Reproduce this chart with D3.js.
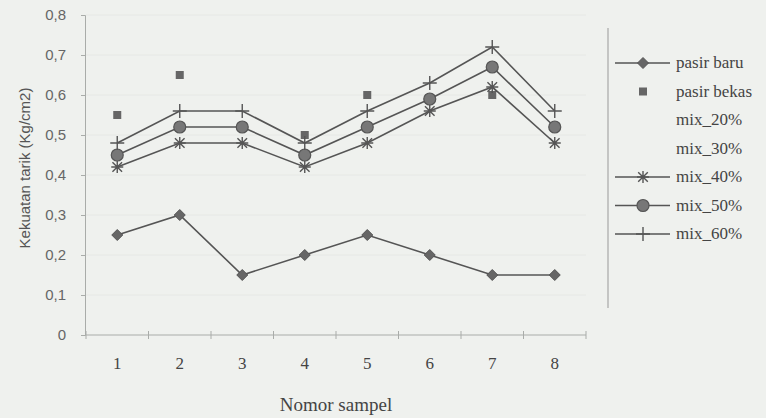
<!DOCTYPE html>
<html>
<head>
<meta charset="utf-8">
<script src="https://cdn.jsdelivr.net/npm/d3@7"></script>
<style>
  html, body { margin: 0; padding: 0; background: #eff1ee; }
  svg { display: block; }
</style>
</head>
<body>
<div id="chart"></div>
<script>
// data
const categories = [1, 2, 3, 4, 5, 6, 7, 8];
const pasirBaru  = [0.25, 0.30, 0.15, 0.20, 0.25, 0.20, 0.15, 0.15];
const pasirBekas = [0.55, 0.65, 0.52, 0.50, 0.60, 0.59, 0.60, 0.52];
const mix20      = [null, null, null, null, null, null, null, null];
const mix30      = [null, null, null, null, null, null, null, null];
const mix40      = [0.42, 0.48, 0.48, 0.42, 0.48, 0.56, 0.62, 0.48];
const mix50      = [0.45, 0.52, 0.52, 0.45, 0.52, 0.59, 0.67, 0.52];
const mix60      = [0.48, 0.56, 0.56, 0.48, 0.56, 0.63, 0.72, 0.56];
const yTicks     = [0, 0.1, 0.2, 0.3, 0.4, 0.5, 0.6, 0.7, 0.8];

const series = [
  { name: "pasir baru",  values: pasirBaru,  line: true,  mark: "diamond" },
  { name: "pasir bekas", values: pasirBekas, line: false, mark: "square" },
  { name: "mix_20%",     values: mix20,      line: false, mark: null },
  { name: "mix_30%",     values: mix30,      line: false, mark: null },
  { name: "mix_40%",     values: mix40,      line: true,  mark: "star" },
  { name: "mix_50%",     values: mix50,      line: true,  mark: "circle" },
  { name: "mix_60%",     values: mix60,      line: true,  mark: "plus" }
];

const width = 766, height = 418;
const svg = d3.select("#chart").append("svg")
  .attr("width", width).attr("height", height);

const x = d3.scalePoint().domain(categories).range([86, 586]).padding(0.5);
const y = d3.scaleLinear().domain([0, 0.8]).range([335, 15]);

const ink = "#555", axisCol = "#a9aca9";
const fmt = d => d === 0 ? "0" : d.toFixed(1).replace(".", ",");

// gridlines, barely visible like the scan
svg.append("g")
  .selectAll("line").data(yTicks.slice(1)).join("line")
  .attr("x1", 86).attr("x2", 586)
  .attr("y1", d => y(d)).attr("y2", d => y(d))
  .attr("stroke", "#e6e8e5").attr("stroke-width", 1);

// y axis
const axY = svg.append("g")
  .attr("transform", "translate(85,0)")
  .call(d3.axisLeft(y).tickValues(yTicks).tickFormat(fmt).tickSize(4).tickPadding(15));
axY.select(".domain").attr("stroke", axisCol);
axY.selectAll(".tick line").attr("stroke", axisCol);
axY.selectAll("text")
  .style("font-family", "'Liberation Sans', sans-serif")
  .style("font-size", "15px").attr("fill", "#666");

// x axis, ticks between categories
const step = x.step();
const xg = svg.append("g");
xg.append("line")
  .attr("x1", 85).attr("x2", 586).attr("y1", 335).attr("y2", 335)
  .attr("stroke", axisCol);
xg.selectAll("line.tk").data(d3.range(categories.length + 1)).join("line")
  .attr("class", "tk")
  .attr("x1", i => x(categories[0]) - step / 2 + i * step)
  .attr("x2", i => x(categories[0]) - step / 2 + i * step)
  .attr("y1", 331).attr("y2", 339)
  .attr("stroke", axisCol);
xg.selectAll("text").data(categories).join("text")
  .attr("x", d => x(d)).attr("y", 369)
  .attr("text-anchor", "middle")
  .style("font-family", "'Liberation Serif', serif")
  .style("font-size", "17px").attr("fill", "#444")
  .text(d => d);

// axis titles
svg.append("text")
  .attr("transform", "translate(30,168) rotate(-90)")
  .attr("text-anchor", "middle")
  .style("font-family", "'Liberation Sans', sans-serif")
  .style("font-size", "15px").attr("fill", "#555")
  .text("Kekuatan tarik (Kg/cm2)");

svg.append("text")
  .attr("x", 336).attr("y", 411)
  .attr("text-anchor", "middle")
  .style("font-family", "'Liberation Serif', serif")
  .style("font-size", "19px").attr("fill", "#444")
  .text("Nomor sampel");

// marker shapes
function drawMark(g, type, cx, cy) {
  if (type === "diamond") {
    g.append("path").attr("d", `M${cx},${cy-5.5}L${cx+5.5},${cy}L${cx},${cy+5.5}L${cx-5.5},${cy}Z`)
      .attr("fill", "#666").attr("stroke", "#555");
  } else if (type === "square") {
    g.append("rect").attr("x", cx - 4).attr("y", cy - 4).attr("width", 8).attr("height", 8)
      .attr("fill", "#666");
  } else if (type === "circle") {
    g.append("circle").attr("cx", cx).attr("cy", cy).attr("r", 6)
      .attr("fill", "#777").attr("stroke", "#555").attr("stroke-width", 1.2);
  } else if (type === "star") {
    const r = 6;
    g.append("path")
      .attr("d", `M${cx-r},${cy}L${cx+r},${cy}M${cx-r*0.8},${cy-r*0.8}L${cx+r*0.8},${cy+r*0.8}M${cx-r*0.8},${cy+r*0.8}L${cx+r*0.8},${cy-r*0.8}M${cx},${cy-r}L${cx},${cy+r}`)
      .attr("stroke", "#555").attr("stroke-width", 1.4).attr("fill", "none");
  } else if (type === "plus") {
    g.append("path")
      .attr("d", `M${cx-7},${cy}L${cx+7},${cy}M${cx},${cy-7}L${cx},${cy+7}`)
      .attr("stroke", "#555").attr("stroke-width", 1.4);
  }
}

const line = d3.line()
  .defined(d => d.v != null)
  .x(d => x(d.c)).y(d => y(d.v));

series.forEach(s => {
  const pts = categories.map((c, i) => ({ c, v: s.values[i] }));
  const g = svg.append("g");
  if (s.line) {
    g.append("path").datum(pts)
      .attr("d", line).attr("fill", "none")
      .attr("stroke", ink).attr("stroke-width", 1.6);
  }
  if (s.mark) pts.filter(p => p.v != null).forEach(p => drawMark(g, s.mark, x(p.c), y(p.v)));
});

// legend
const leg = svg.append("g");
leg.append("line").attr("x1", 608).attr("x2", 608).attr("y1", 28).attr("y2", 308)
  .attr("stroke", "#999");
series.forEach((s, i) => {
  const ly = 63 + i * 28.5;
  if (s.line) {
    leg.append("line").attr("x1", 615).attr("x2", 670).attr("y1", ly).attr("y2", ly)
      .attr("stroke", ink).attr("stroke-width", 1.6);
  }
  if (s.mark) drawMark(leg, s.mark, 643, ly);
  leg.append("text").attr("x", 676).attr("y", ly + 5)
    .style("font-family", "'Liberation Serif', serif")
    .style("font-size", "17px").attr("fill", "#444")
    .text(s.name);
});
</script>
</body>
</html>
